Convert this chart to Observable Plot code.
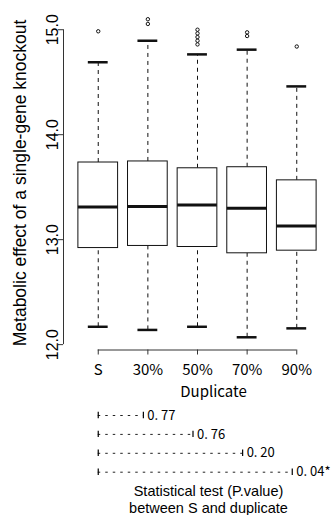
<!DOCTYPE html>
<html><head><meta charset="utf-8">
<script src="https://cdn.jsdelivr.net/npm/d3@7"></script>
<script src="https://cdn.jsdelivr.net/npm/@observablehq/plot@0.6"></script>
<style>body{margin:0;background:#fff;} svg{display:block;}</style>
</head><body><div id="chart"></div>
<script>
const categories = ["S", "30%", "50%", "70%", "90%"];
const lowerWhisker = [12.17, 12.14, 12.17, 12.07, 12.155];
const q1 = [12.92, 12.94, 12.93, 12.87, 12.895];
const medians = [13.31, 13.317, 13.33, 13.30, 13.13];
const q3 = [13.735, 13.745, 13.68, 13.69, 13.565];
const upperWhisker = [14.69, 14.895, 14.765, 14.81, 14.46];
const outliers = [[14.985], [15.10, 15.055], [15.0, 14.965, 14.93, 14.895, 14.86], [14.975, 14.94], [14.84]];
const yTicks = [12, 13, 14, 15];
const comparisons = ["30%", "50%", "70%", "90%"];
const pValues = ["0. 77", "0. 76", "0. 20", "0. 04*"];
const yTitle = "Metabolic effect of a single-gene knockout";
const xTitle = "Duplicate";
const caption = "Statistical test (P.value)\nbetween S and duplicate";

const sans = "'Liberation Sans', Arial, sans-serif";
const gothic = "'Noto Sans CJK JP', sans-serif";

const boxes = categories.map((c, i) => ({c, pos: i + 1, lo: lowerWhisker[i], q1: q1[i], med: medians[i], q3: q3[i], hi: upperWhisker[i]}));
const outs = outliers.flatMap((v, i) => v.map(y => ({pos: i + 1, y})));
const [ymin, ymax] = d3.extent([...lowerWhisker, ...upperWhisker, ...outliers.flat()]);
const pad = (ymax - ymin) * 0.04;
const yDomain = [ymin - pad, ymax + pad];
const n = categories.length;
const xDomain = [0.5 - 0.04 * n, n + 0.5 + 0.04 * n];
const basePos = categories.indexOf(categories[0]) + 1;

const W = 331, ML = 63;
const ink = "#111";

const plot1 = Plot.plot({
  width: W, height: 400,
  marginLeft: ML, marginRight: 0, marginTop: 6, marginBottom: 50.5,
  x: {type: "linear", domain: xDomain},
  y: {type: "linear", domain: yDomain},
  style: {fontFamily: sans, background: "white", color: "#000"},
  marks: [
    Plot.ruleX(boxes, {x: "pos", y1: "q3", y2: "hi", stroke: ink, strokeDasharray: "4,4"}),
    Plot.ruleX(boxes, {x: "pos", y1: "lo", y2: "q1", stroke: ink, strokeDasharray: "4,4"}),
    Plot.rect(boxes, {x1: d => d.pos - 0.4, x2: d => d.pos + 0.4, y1: "q1", y2: "q3", fill: "white", stroke: ink, strokeWidth: 1}),
    Plot.ruleY(boxes, {y: "med", x1: d => d.pos - 0.4, x2: d => d.pos + 0.4, stroke: ink, strokeWidth: 3}),
    Plot.ruleY(boxes, {y: "hi", x1: d => d.pos - 0.2, x2: d => d.pos + 0.2, stroke: ink, strokeWidth: 2.5}),
    Plot.ruleY(boxes, {y: "lo", x1: d => d.pos - 0.2, x2: d => d.pos + 0.2, stroke: ink, strokeWidth: 2.5}),
    Plot.dot(outs, {x: "pos", y: "y", r: 1.7, stroke: ink, strokeWidth: 1}),
    Plot.ruleX([xDomain[0]], {y1: yTicks[0], y2: yTicks[yTicks.length - 1], stroke: "#333"}),
    Plot.ruleY([yDomain[0]], {x1: basePos, x2: n, stroke: "#333"}),
    Plot.axisY({ticks: yTicks, tickFormat: d3.format(".1f"), tickSize: 5, tickPadding: 0.5, tickRotate: -90, fontSize: 16, label: null, stroke: "#333"}),
    Plot.axisX({ticks: d3.range(1, n + 1), tickFormat: i => categories[i - 1], tickSize: 5, tickPadding: 9, fontSize: 15, fontFamily: gothic, label: null, stroke: "#333"}),
    Plot.text([yTitle], {frameAnchor: "left", rotate: -90, dx: -38, dy: 4.75, textAnchor: "middle", lineAnchor: "bottom", fontSize: 17.5}),
    Plot.text([xTitle], {frameAnchor: "bottom", dx: 16, dy: 42, textAnchor: "middle", lineAnchor: "middle", fontSize: 15, fontFamily: gothic})
  ]
});

const rows = comparisons.map((c, i) => ({row: i, pos: categories.indexOf(c) + 1, p: pValues[i]}));
const plot2 = Plot.plot({
  width: W, height: 115,
  marginLeft: ML, marginRight: 0, marginTop: 0, marginBottom: 0,
  x: {type: "linear", domain: xDomain, axis: null},
  y: {type: "linear", domain: [0, comparisons.length - 1], range: [15, 71.7], axis: null},
  style: {fontFamily: sans, background: "white", color: "#000"},
  marks: [
    Plot.ruleY(rows, {y: "row", x1: d => basePos, x2: "pos", insetRight: 4.5, stroke: "#222", strokeDasharray: "2.5,5"}),
    Plot.ruleX(rows, {x: d => basePos, y1: d => d.row - 0.17, y2: d => d.row + 0.17, stroke: "#000", strokeWidth: 1.2}),
    Plot.ruleX(rows, {x: "pos", y1: d => d.row - 0.17, y2: d => d.row + 0.17, dx: -4.5, stroke: "#000", strokeWidth: 1.2}),
    Plot.text(rows, {x: "pos", y: "row", text: "p", textAnchor: "start", dx: -0.5, fontSize: 13, fontFamily: gothic}),
    Plot.text([caption], {frameAnchor: "bottom", textAnchor: "middle", lineAnchor: "bottom", dx: 11, dy: -3, fontSize: 14.5, lineHeight: 1.15})
  ]
});

const root = document.getElementById("chart");
root.append(plot1, plot2);
</script>
</body></html>
